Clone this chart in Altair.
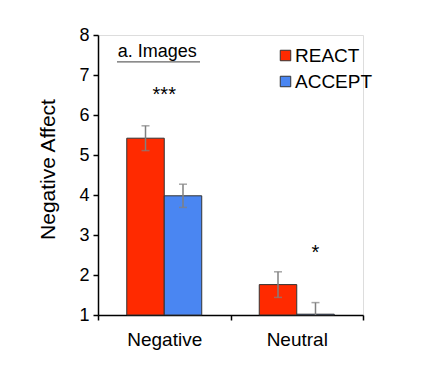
import altair as alt
import pandas as pd

conditions = ["Negative", "Negative", "Neutral", "Neutral"]
groups = ["REACT", "ACCEPT", "REACT", "ACCEPT"]
means = [5.42, 3.98, 1.76, 1.02]
errors = [0.31, 0.29, 0.32, 0.29]

group_order = ["REACT", "ACCEPT"]
group_colors = ["#ff2a00", "#4a86f2"]
cond_order = ["Negative", "Neutral"]
y_ticks = [1, 2, 3, 4, 5, 6, 7, 8]

sig_cond = ["Negative", "Neutral"]
sig_group = ["REACT", "ACCEPT"]
sig_text = ["***", "*"]
sig_y = [6.5, 2.55]

panel_label = "a. Images"

df = pd.DataFrame({
    "condition": conditions,
    "group": groups,
    "mean": means,
    "err": errors,
})
df["lo"] = df["mean"] - df["err"]
df["hi"] = df["mean"] + df["err"]

sig_df = pd.DataFrame({"condition": sig_cond, "group": sig_group,
                       "label": sig_text, "y": sig_y})
title_df = pd.DataFrame({"condition": ["Negative"], "label": [panel_label], "y": [7.45]})

FONT = "Liberation Sans"

x_axis = alt.Axis(title=None, labelAngle=0, labelFontSize=19,
                  labelColor="black", tickBand="extent",
                  tickSize=5, tickColor="black", tickWidth=1.5,
                  domainColor="black", domainWidth=1.5,
                  labelPadding=10)
x_scale = alt.Scale(paddingInner=0, paddingOuter=0)
xoff_scale = alt.Scale(domain=group_order, paddingInner=0, paddingOuter=0.767)
y_scale = alt.Scale(domain=[1, 8], zero=False, nice=False)
y_axis = alt.Axis(title="Negative Affect", values=y_ticks, tickCount=20, format="d",
                  labelFontSize=18, labelColor="black", titleFontSize=21,
                  titleFontWeight="normal", titleColor="black",
                  titleX=-50, titleY=134, titleAlign="center",
                  titleBaseline="middle", titleAngle=-90,
                  tickSize=5, tickColor="black", tickWidth=1.5,
                  domainColor="black", domainWidth=1.5, labelPadding=4,
                  labelOverlap=False, labelBound=False, grid=False)


def X():
    return alt.X("condition:N", sort=cond_order, scale=x_scale, axis=x_axis)


def XO():
    return alt.XOffset("group:N", sort=group_order, scale=xoff_scale)


def Y(field):
    return alt.Y(field, scale=y_scale, axis=y_axis)


base = alt.Chart(df)

bars = base.mark_bar(stroke="#333333", strokeWidth=1).encode(
    x=X(),
    xOffset=XO(),
    y=Y("mean:Q"),
    y2=alt.datum(1),
    color=alt.Color("group:N", sort=group_order,
                    scale=alt.Scale(domain=group_order, range=group_colors),
                    legend=alt.Legend(title=None, orient="none", legendX=178,
                                      legendY=11, symbolType="square",
                                      symbolSize=110, symbolStrokeColor="#333333",
                                      symbolStrokeWidth=1, labelFontSize=19,
                                      labelColor="black", rowPadding=6,
                                      labelOffset=0)),
)

err_rule = base.mark_rule(color="#808080", strokeWidth=1.5, clip=True).encode(
    x=X(), xOffset=XO(), y=Y("lo:Q"), y2="hi:Q",
)
err_hi = base.mark_tick(color="#808080", thickness=1.5, size=8, orient="horizontal",
                        clip=True).encode(
    x=X(), xOffset=XO(), y=Y("hi:Q"),
)
err_lo = base.mark_tick(color="#808080", thickness=1.5, size=8, orient="horizontal",
                        clip=True).encode(
    x=X(), xOffset=XO(), y=Y("lo:Q"),
)

sig_main = alt.Chart(sig_df.iloc[[0]]).mark_text(fontSize=20, color="black",
                                                  baseline="middle").encode(
    x=X(), y=Y("y:Q"), text="label:N",
)
sig_side = alt.Chart(sig_df.iloc[[1]]).mark_text(fontSize=20, color="black",
                                                  baseline="middle").encode(
    x=X(), xOffset=XO(), y=Y("y:Q"), text="label:N",
)

panel = alt.Chart(title_df).mark_text(fontSize=18, color="black", baseline="alphabetic",
                                      dx=-7).encode(
    x=X(), y=Y("y:Q"), text="label:N",
)
underline = alt.Chart(title_df).mark_rule(color="#666666", strokeWidth=1.3).encode(
    x=alt.value(19), x2=alt.value(102), y=alt.datum(7.33),
)

chart = alt.layer(bars, err_rule, err_hi, err_lo, sig_main, sig_side, panel, underline).properties(
    width=265, height=280, autosize="none",
    padding={"left": 90, "top": 27, "right": 50, "bottom": 45},
).configure_view(stroke=None).configure(font=FONT, background="white")

chart.save("out.html", embed_options={"renderer": "svg", "actions": False})
